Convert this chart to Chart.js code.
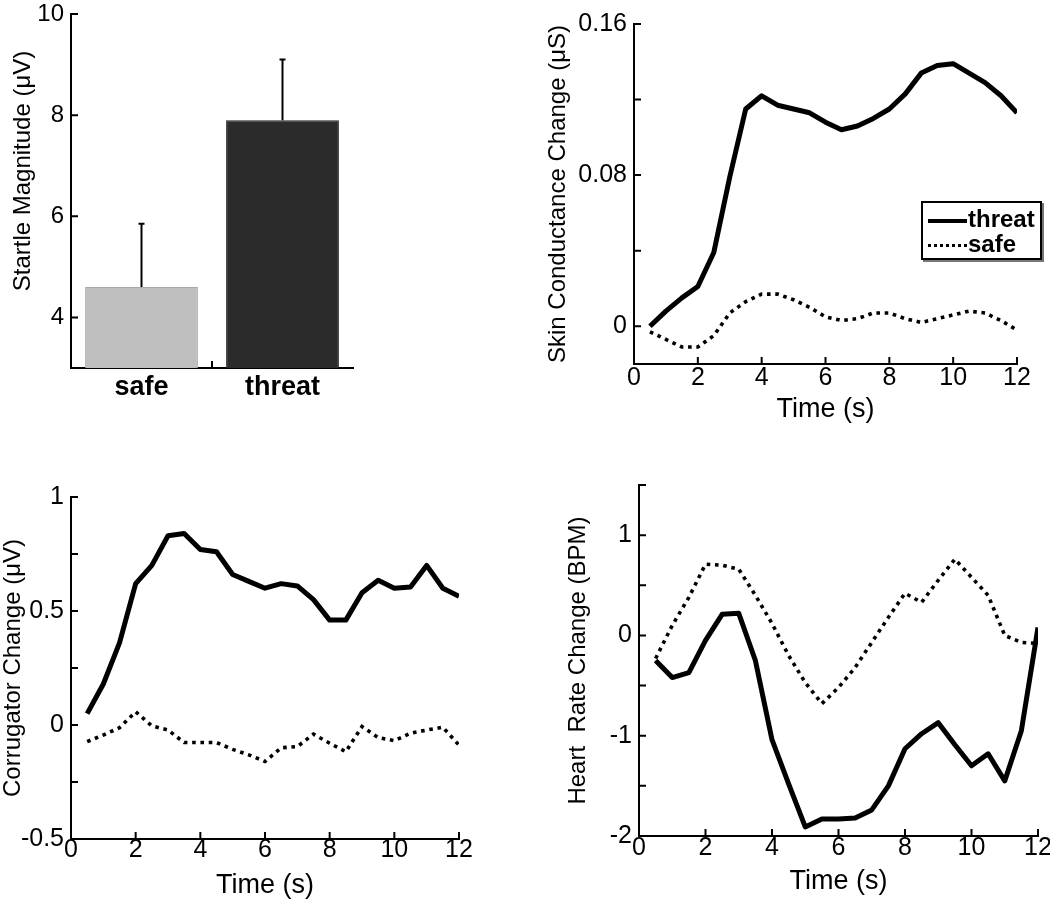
<!DOCTYPE html>
<html>
<head>
<meta charset="utf-8">
<script src="https://cdn.jsdelivr.net/npm/chart.js@4.4.1/dist/chart.umd.min.js"></script>
<style>
html, body { margin: 0; padding: 0; width: 1050px; height: 904px; overflow: hidden; background: #fff; }
canvas { position: absolute; }
#legend {
    position: absolute; left: 921px; top: 201px; width: 117px; height: 55px;
    border: 2px solid #000; box-shadow: 2px 2px 0 #777; background: #fff;
    font: bold 24px 'Liberation Sans', Arial, sans-serif; color: #000;
}
#legend .row { position: absolute; left: 5px; height: 26px; line-height: 26px; white-space: nowrap; }
#legend .swatch { display: inline-block; width: 39px; vertical-align: middle; margin-right: 1px; }
</style>
</head>
<body>
<canvas id="startle"></canvas>
<canvas id="skin"></canvas>
<canvas id="corr"></canvas>
<canvas id="heart"></canvas>
<div id="legend"></div>
<script>
// values
const time = [0.5, 1, 1.5, 2, 2.5, 3, 3.5, 4, 4.5, 5, 5.5, 6, 6.5, 7, 7.5, 8, 8.5, 9, 9.5, 10, 10.5, 11, 11.5, 12];
const timeTicks = [0, 2, 4, 6, 8, 10, 12];
const seriesNames = ['threat', 'safe'];

const startleGroups = ['safe', 'threat'];
const startleMean = [4.6, 7.9];
const startleErr = [1.25, 1.2];
const startleColors = ['#bebebe', '#2b2b2b'];
const startleTicks = [4, 6, 8, 10];

const scThreat = [0.000, 0.008, 0.015, 0.021, 0.039, 0.079, 0.115, 0.122, 0.117, 0.115, 0.113, 0.108,
                  0.104, 0.106, 0.110, 0.115, 0.123, 0.134, 0.138, 0.139, 0.134, 0.129, 0.122, 0.113];
const scSafe = [-0.003, -0.007, -0.011, -0.011, -0.005, 0.007, 0.013, 0.017, 0.017, 0.014, 0.010, 0.005,
                0.003, 0.004, 0.007, 0.007, 0.004, 0.002, 0.004, 0.006, 0.008, 0.007, 0.003, -0.002];
const scTicks = [0, 0.04, 0.08, 0.12, 0.16];
const scLabels = [0, 0.08, 0.16];

const corrThreat = [0.05, 0.18, 0.36, 0.62, 0.70, 0.83, 0.84, 0.77, 0.76, 0.66, 0.63, 0.60,
                    0.62, 0.61, 0.55, 0.46, 0.46, 0.58, 0.635, 0.60, 0.605, 0.70, 0.60, 0.565];
const corrSafe = [-0.073, -0.044, -0.012, 0.058, -0.004, -0.022, -0.077, -0.077, -0.077, -0.107, -0.131, -0.16,
                  -0.10, -0.095, -0.04, -0.08, -0.117, -0.007, -0.055, -0.069, -0.036, -0.022, -0.01, -0.088];
const corrTicks = [-0.5, -0.25, 0, 0.25, 0.5, 0.75, 1];
const corrLabels = [-0.5, 0, 0.5, 1];

const hrThreat = [-0.25, -0.42, -0.37, -0.05, 0.21, 0.22, -0.25, -1.04, -1.48, -1.91, -1.83, -1.83,
                  -1.82, -1.74, -1.50, -1.13, -0.98, -0.87, -1.09, -1.30, -1.18, -1.45, -0.95, 0.08];
const hrSafe = [-0.23, 0.10, 0.38, 0.71, 0.70, 0.66, 0.40, 0.12, -0.20, -0.47, -0.68, -0.52,
                -0.32, -0.07, 0.18, 0.42, 0.33, 0.55, 0.76, 0.58, 0.40, 0.00, -0.07, -0.08];
const hrTicks = [-2, -1.5, -1, -0.5, 0, 0.5, 1, 1.5];
const hrLabels = [-2, -1, 0, 1];

Chart.defaults.font.family = "'Liberation Sans', Arial, Helvetica, sans-serif";
Chart.defaults.color = '#000';

// MATLAB style: small tick marks pointing into the plot
const innerTicks = {
    id: 'innerTicks',
    afterDraw(chart) {
        const { ctx, chartArea: a, scales: { x, y } } = chart;
        ctx.save();
        ctx.strokeStyle = '#000';
        ctx.lineWidth = 2;
        ctx.beginPath();
        y.ticks.forEach(t => {
            const py = y.getPixelForValue(t.value);
            ctx.moveTo(a.left, py);
            ctx.lineTo(a.left + 7, py);
        });
        if (x.type === 'category') {
            for (let i = 0; i < x.ticks.length - 1; i++) {
                const px = (x.getPixelForTick(i) + x.getPixelForTick(i + 1)) / 2;
                ctx.moveTo(px, a.bottom);
                ctx.lineTo(px, a.bottom - 7);
            }
        } else {
            x.ticks.forEach(t => {
                const px = x.getPixelForValue(t.value);
                ctx.moveTo(px, a.bottom);
                ctx.lineTo(px, a.bottom - 7);
            });
        }
        ctx.stroke();
        ctx.restore();
    }
};

// upper error bars on the startle bars
const errorBars = {
    id: 'errorBars',
    afterDatasetsDraw(chart) {
        const { ctx } = chart;
        const y = chart.scales.y;
        ctx.save();
        ctx.strokeStyle = '#000';
        ctx.lineWidth = 2;
        ctx.beginPath();
        chart.getDatasetMeta(0).data.forEach((bar, i) => {
            const top = y.getPixelForValue(startleMean[i] + startleErr[i]);
            ctx.moveTo(bar.x, bar.y);
            ctx.lineTo(bar.x, top);
            ctx.moveTo(bar.x - 3, top);
            ctx.lineTo(bar.x + 3, top);
        });
        ctx.stroke();
        ctx.restore();
    }
};

// place a canvas and pin the plot area to page coordinates
function setup(id, c) {
    const el = document.getElementById(id);
    el.width = c.r - c.l;
    el.height = c.b - c.t;
    el.style.left = c.l + 'px';
    el.style.top = c.t + 'px';
    el.style.width = (c.r - c.l) + 'px';
    el.style.height = (c.b - c.t) + 'px';
    return el;
}

function baseOptions(c, a) {
    return {
        responsive: false,
        maintainAspectRatio: false,
        animation: false,
        layout: { padding: { top: a.t - c.t, right: c.r - a.r, left: 0, bottom: 0 } },
        plugins: { legend: { display: false }, tooltip: { enabled: false } }
    };
}

function yAxis(c, a, o) {
    return {
        type: 'linear',
        min: o.min, max: o.max,
        afterFit: s => { s.width = a.l - c.l; },
        afterBuildTicks: s => { s.ticks = o.ticks.map(v => ({ value: v })); },
        grid: { display: false, drawTicks: false },
        border: { display: true, color: '#000', width: 2 },
        ticks: {
            padding: 7,
            font: { size: o.tickSize },
            callback: v => (o.labels.includes(v) ? String(v) : '')
        },
        title: {
            display: true, text: o.title,
            font: { size: 24, lineHeight: 1.2 },
            padding: { top: o.titleX - c.l - 14.4, bottom: 0 }
        }
    };
}

// panel 1: startle bars
(function () {
    const c = { l: -10, t: -20, r: 525, b: 452 };
    const a = { l: 71, t: 14, r: 353, b: 368 };
    const opts = baseOptions(c, a);
    opts.scales = {
        x: {
            type: 'category',
            afterFit: s => { s.height = c.b - a.b; },
            grid: { display: false, drawTicks: false },
            border: { display: true, color: '#000', width: 2 },
            ticks: { padding: 3, font: { size: 27, weight: 'bold', lineHeight: 1.2 } }
        },
        // leading spaces lift the title a little above the axis centre, as in the figure
        y: yAxis(c, a, { min: 3, max: 10, ticks: startleTicks, labels: startleTicks, tickSize: 24,
                         title: '\u00a0\u00a0\u00a0\u00a0\u00a0\u00a0Startle Magnitude (\u03bcV)', titleX: 23 })
    };
    new Chart(setup('startle', c), {
        type: 'bar',
        data: {
            labels: startleGroups,
            datasets: [{
                data: startleMean,
                backgroundColor: startleColors,
                borderColor: ['#a8a8a8', '#222'],
                borderWidth: 1,
                barPercentage: 0.8,
                categoryPercentage: 1.0
            }]
        },
        options: opts,
        plugins: [errorBars, innerTicks]
    });
})();

function linePanel(id, c, a, o) {
    const opts = baseOptions(c, a);
    opts.scales = {
        x: {
            type: 'linear', min: 0, max: 12,
            afterFit: s => { s.height = c.b - a.b; },
            afterBuildTicks: s => { s.ticks = timeTicks.map(v => ({ value: v })); },
            grid: { display: false, drawTicks: false },
            border: { display: true, color: '#000', width: 2 },
            ticks: { padding: o.xPad, font: { size: 25, lineHeight: 1.0 } },
            title: {
                display: true, text: 'Time (s)',
                font: { size: 27, lineHeight: 1.2 },
                padding: { top: 0, bottom: c.b - o.xTitleY - 16.2 }
            }
        },
        y: yAxis(c, a, o)
    };
    new Chart(setup(id, c), {
        type: 'line',
        data: {
            datasets: [
                {
                    label: seriesNames[0],
                    data: time.map((t, i) => ({ x: t, y: o.threat[i] })),
                    borderColor: '#000', borderWidth: 5, pointRadius: 0, tension: 0,
                    borderJoinStyle: 'round'
                },
                {
                    label: seriesNames[1],
                    data: time.map((t, i) => ({ x: t, y: o.safe[i] })),
                    borderColor: '#000', borderWidth: 3.6, pointRadius: 0, tension: 0,
                    borderDash: [3.6, 4.7]
                }
            ]
        },
        options: opts,
        plugins: [innerTicks]
    });
}

linePanel('skin', { l: 525, t: -20, r: 1070, b: 452 }, { l: 634, t: 24, r: 1017, b: 364 }, {
    min: -0.02, max: 0.16, ticks: scTicks, labels: scLabels, tickSize: 25,
    title: 'Skin Conductance Change (\u03bcS)', titleX: 558, xTitleY: 410, xPad: 1.5,
    threat: scThreat, safe: scSafe
});

linePanel('corr', { l: -10, t: 452, r: 525, b: 904 }, { l: 71, t: 497, r: 459, b: 839 }, {
    min: -0.5, max: 1, ticks: corrTicks, labels: corrLabels, tickSize: 25,
    title: 'Corrugator Change (\u03bcV)', titleX: 13, xTitleY: 886, xPad: -1.5,
    threat: corrThreat, safe: corrSafe
});

linePanel('heart', { l: 525, t: 452, r: 1070, b: 904 }, { l: 639, t: 485, r: 1038, b: 836 }, {
    min: -2, max: 1.5, ticks: hrTicks, labels: hrLabels, tickSize: 25,
    title: 'Heart  Rate Change (BPM)', titleX: 578, xTitleY: 882, xPad: -0.5,
    threat: hrThreat, safe: hrSafe
});

// legend of the skin conductance panel
const legend = document.getElementById('legend');
seriesNames.forEach((name, i) => {
    const row = document.createElement('div');
    row.className = 'row';
    row.style.top = (3 + i * 25) + 'px';
    const sw = document.createElement('span');
    sw.className = 'swatch';
    sw.style.borderTop = i === 0 ? '4px solid #000' : '3px dotted #000';
    row.appendChild(sw);
    row.appendChild(document.createTextNode(name));
    legend.appendChild(row);
});
</script>
</body>
</html>
